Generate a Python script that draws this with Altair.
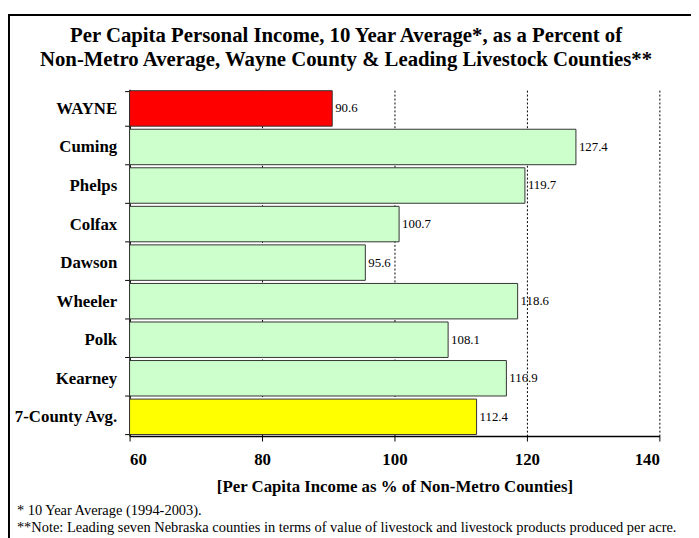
import altair as alt
import pandas as pd

counties = ["WAYNE", "Cuming", "Phelps", "Colfax", "Dawson", "Wheeler", "Polk", "Kearney", "7-County Avg."]
values = [90.6, 127.4, 119.7, 100.7, 95.6, 118.6, 108.1, 116.9, 112.4]
fills = ["#FF0000", "#CCFFCC", "#CCFFCC", "#CCFFCC", "#CCFFCC", "#CCFFCC", "#CCFFCC", "#CCFFCC", "#FFFF00"]
x_ticks = [60, 80, 100, 120, 140]

title_lines = [
    "Per Capita Personal Income, 10 Year Average*, as a Percent of",
    "Non-Metro Average, Wayne County & Leading Livestock Counties**",
]
footnotes = [
    "* 10 Year Average (1994-2003).",
    "**Note: Leading seven Nebraska counties in terms of value of livestock and livestock products produced per acre.",
]
x_title = "[Per Capita Income as % of Non-Metro Counties]"

FONT = "Liberation Serif"

df = pd.DataFrame({"county": counties, "value": values, "fill": fills})

y_enc = alt.Y(
    "county:N",
    sort=counties,
    title=None,
    scale=alt.Scale(paddingInner=0.08, paddingOuter=0.04),
    axis=alt.Axis(
        tickBand="extent",
        domainColor="black",
        domainWidth=1.5,
        tickColor="black",
        tickSize=5,
        labelFont=FONT,
        labelFontSize=17,
        labelFontWeight="bold",
        labelColor="black",
        labelPadding=8,
        grid=False,
    ),
)
x_enc = alt.X(
    "value:Q",
    scale=alt.Scale(domain=[60, 140], zero=False, nice=False),
    axis=alt.Axis(
        values=x_ticks,
        title=x_title,
        titleFont=FONT,
        titleFontSize=17,
        titleFontWeight="bold",
        titleColor="black",
        titlePadding=11,
        domainColor="black",
        domainWidth=1.5,
        tickColor="black",
        tickSize=5,
        labelFont=FONT,
        labelFontSize=17,
        labelFontWeight="bold",
        labelColor="black",
        labelPadding=11,
        grid=True,
        gridColor="black",
        gridDash=[2, 2],
        gridWidth=1,
    ),
)

base = alt.Chart(df)
bars = base.mark_bar(stroke="#333333", strokeWidth=1).encode(
    y=y_enc,
    x=x_enc,
    x2=alt.datum(60),
    fill=alt.Fill("fill:N", scale=None),
)
labels = base.mark_text(align="left", baseline="middle", dx=3, font=FONT, fontSize=13, color="black").encode(
    y=alt.Y("county:N", sort=counties),
    x="value:Q",
    text=alt.Text("value:Q", format=".1f"),
)

one = alt.Data(values=[{"k": 1}])
border = alt.Chart(one).mark_rect(filled=False, stroke="black", strokeWidth=2).encode(
    x=alt.value(-122), x2=alt.value(720), y=alt.value(-75), y2=alt.value(620)
)
t1 = alt.Chart(one).mark_text(font=FONT, fontSize=21, fontWeight="bold", align="center", baseline="middle", color="black").encode(
    x=alt.value(219), y=alt.value(-54), text=alt.value(title_lines[0])
)
t2 = alt.Chart(one).mark_text(font=FONT, fontSize=21, fontWeight="bold", align="center", baseline="middle", color="black").encode(
    x=alt.value(219), y=alt.value(-29), text=alt.value(title_lines[1])
)
f1 = alt.Chart(one).mark_text(font=FONT, fontSize=14.6, align="left", baseline="middle", color="black").encode(
    x=alt.value(-114), y=alt.value(427), text=alt.value(footnotes[0])
)
f2 = alt.Chart(one).mark_text(font=FONT, fontSize=14.6, align="left", baseline="middle", color="black").encode(
    x=alt.value(-114), y=alt.value(444), text=alt.value(footnotes[1])
)

chart = alt.layer(bars, labels, border, t1, t2, f1, f2).properties(
    width=536,
    height=351,
    padding={"left": 123, "top": 79, "right": 32, "bottom": 100},
    autosize=alt.AutoSizeParams(type="none"),
    background="white",
).configure_view(strokeWidth=0)

chart.save("out.html", embed_options={"renderer": "svg", "actions": False})
